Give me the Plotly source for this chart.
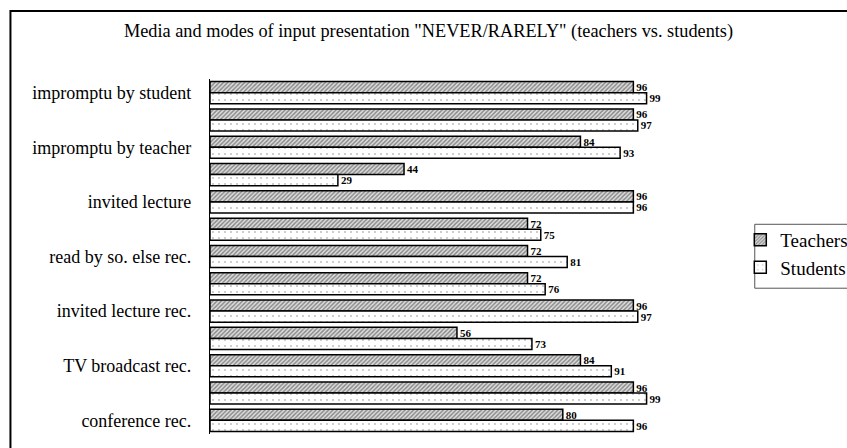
import plotly.graph_objects as go

# Survey shares answering "never/rarely" (percent), top row first
row_labels = [
    "impromptu by student", "", "impromptu by teacher", "", "invited lecture", "",
    "read by so. else rec.", "", "invited lecture rec.", "", "TV broadcast rec.", "",
    "conference rec.",
]
teachers = [96, 96, 84, 44, 96, 72, 72, 72, 96, 56, 84, 96, 80]
students = [99, 97, 93, 29, 96, 75, 81, 76, 97, 73, 91, 99, 96]
rows = list(range(len(row_labels)))

W, H = 847, 448
L, R, T, B = 209.5, 195.5, 79, 13.5
PW, PH = W - L - R, H - T - B


def px_x(px):
    return (px - L) / PW


def px_y(py):
    return 1 - (py - T) / PH


SERIF = "Liberation Serif"
value_font = dict(family=SERIF, size=11, color="black", weight="bold")

fig = go.Figure()
fig.add_trace(go.Bar(
    name="Teachers", y=rows, x=teachers, orientation="h",
    text=teachers, textposition="outside", cliponaxis=False, constraintext="none",
    outsidetextfont=value_font,
    marker=dict(color="white", line=dict(color="black", width=1.5),
                pattern=dict(shape="/", size=3, solidity=0.5,
                             fgcolor="#333333", bgcolor="#e0e0e0")),
    legendgroup="t",
))
fig.add_trace(go.Bar(
    name="Students", y=rows, x=students, orientation="h",
    text=students, textposition="outside", cliponaxis=False, constraintext="none",
    outsidetextfont=value_font,
    marker=dict(color="white", line=dict(color="black", width=1.5),
                pattern=dict(shape=".", size=6, solidity=0.08,
                             fgcolor="#777777", bgcolor="white")),
    legendgroup="s",
))

fig.update_layout(
    width=W, height=H,
    margin=dict(l=L, r=R, t=T, b=B, pad=0, autoexpand=False),
    paper_bgcolor="white", plot_bgcolor="white",
    barmode="group", bargap=0.19, bargroupgap=0,
    font=dict(family=SERIF, color="black"),
    title=dict(
        text='Media and modes of input presentation "NEVER/RARELY" (teachers vs. students)',
        x=px_x(428.5), xref="paper", xanchor="center",
        y=1 - 31 / H, yanchor="middle",
        font=dict(family=SERIF, size=18.3, color="black"),
    ),
    xaxis=dict(range=[0, 100], visible=False, fixedrange=True),
    yaxis=dict(
        range=[12.5, -0.5], tickmode="array",
        tickvals=[r for r, lab in zip(rows, row_labels) if lab],
        ticktext=[lab for lab in row_labels if lab],
        showline=True, linecolor="black", linewidth=1.2,
        showgrid=False, zeroline=False, ticks="", ticklen=0,
        ticklabelstandoff=14,
        tickfont=dict(family=SERIF, size=18, color="black"),
    ),
    showlegend=True,
    legend=dict(
        x=px_x(741), y=px_y(221), xanchor="left", yanchor="top",
        bgcolor="rgba(0,0,0,0)", borderwidth=0,
        font=dict(family=SERIF, size=19, color="black"),
        traceorder="normal", tracegroupgap=13,
    ),
    shapes=[
        # outer chart frame
        dict(type="rect", xref="paper", yref="paper",
             x0=px_x(9.5), x1=px_x(W + 20), y0=px_y(H + 20), y1=px_y(11),
             line=dict(color="black", width=2), fillcolor="rgba(0,0,0,0)"),
        # legend box
        dict(type="rect", xref="paper", yref="paper",
             x0=px_x(755.5), x1=px_x(W + 20), y0=px_y(288.5), y1=px_y(224.5),
             line=dict(color="#555555", width=1), fillcolor="rgba(0,0,0,0)"),
    ],
)

fig.write_html("out.html")
